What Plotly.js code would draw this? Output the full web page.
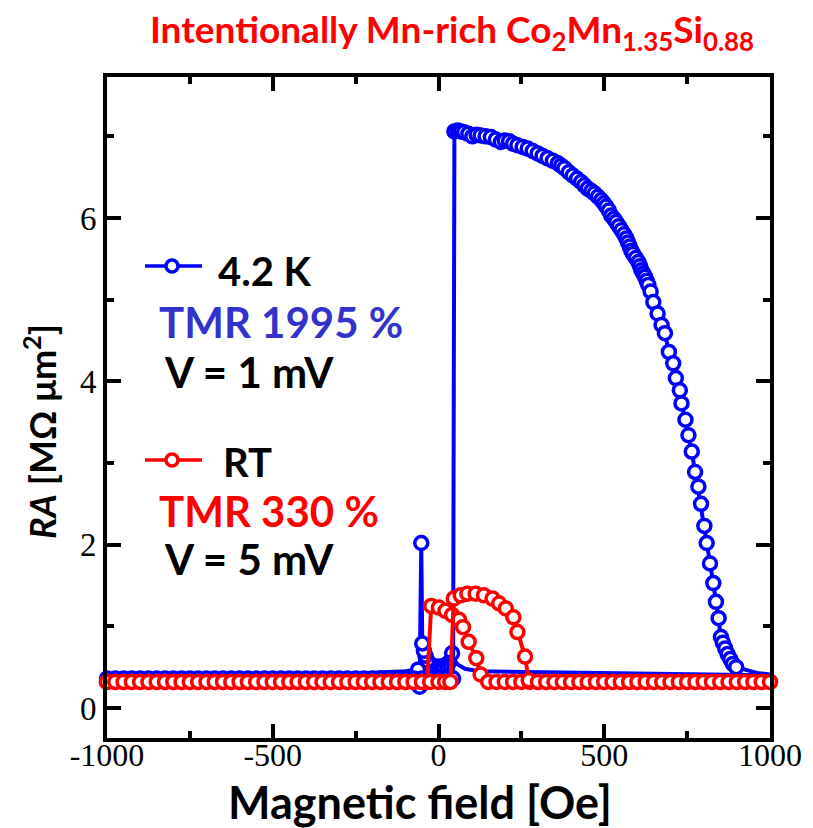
<!DOCTYPE html>
<html>
<head>
<meta charset="utf-8">
<script src="https://cdn.plot.ly/plotly-3.0.1.min.js"></script>
<style>html,body{margin:0;padding:0;background:#fff;}#chart{width:813px;height:828px;}</style>
</head>
<body>
<div id="chart"></div>
<script>
// ---------------- data ----------------
const xTickVals = [-1000, -500, 0, 500, 1000];
const xTickText = ['-1000', '-500', '0', '500', '1000'];
const yTickVals = [0, 2, 4, 6];
const yTickText = ['0', '2', '4', '6'];

// common low-field baseline sweep positions (Oe)
const fieldLeft = [-1000,-975,-950,-925,-900,-875,-850,-825,-800,-775,-750,-725,-700,-675,-650,-625,-600,-575,-550,-525,-500,-475,-450,-425,-400,-375,-350,-325,-300,-275,-250,-225,-200,-175,-150,-125,-100,-75];
const fieldRight = [300,325,350,375,400,425,450,475,500,525,550,575,600,625,650,675,700,725,750,775,800,825,850,875,900,925,950,975,1000];

// RT (red) baseline values
const redBaseLeft = [0.32,0.32,0.32,0.32,0.32,0.32,0.32,0.32,0.32,0.32,0.32,0.32,0.32,0.32,0.32,0.32,0.32,0.32,0.32,0.32,0.32,0.32,0.32,0.32,0.32,0.32,0.32,0.32,0.32,0.32,0.32,0.32,0.32,0.32,0.32,0.32,0.32,0.32];
const redBaseRight = [0.32,0.32,0.32,0.32,0.32,0.32,0.32,0.32,0.32,0.32,0.32,0.32,0.32,0.32,0.32,0.32,0.32,0.32,0.32,0.32,0.32,0.32,0.32,0.32,0.32,0.32,0.32,0.32,0.32];
// RT sweep A (lower branch)
const redA_x = [-50,-34,-22,1,21,41,62,74,91,114,127,150,175,200,225,250,275];
const redA_y = [0.32,0.32,1.25,1.23,1.19,1.14,1.08,0.99,0.81,0.61,0.41,0.32,0.32,0.32,0.32,0.32,0.32];
// RT sweep B (upper arc)
const redB_x = [-50,-25,0,20,36,46,67,87,112,137,163,183,203,226,238,261,272];
const redB_y = [0.32,0.32,0.32,0.32,0.32,1.34,1.38,1.40,1.40,1.38,1.34,1.28,1.22,1.11,0.93,0.63,0.34];

// 4.2 K (blue) sweep B: baseline then AP plateau
const blueBaseLeft = [0.36,0.36,0.36,0.36,0.36,0.36,0.36,0.36,0.36,0.36,0.36,0.36,0.36,0.36,0.36,0.36,0.36,0.36,0.36,0.36,0.36,0.36,0.36,0.36,0.36,0.36,0.36,0.36,0.36,0.36,0.36,0.36,0.36,0.36,0.36,0.36,0.36,0.36];
const blueB_x = [-50,-25,0,20,44,48,58,67,77,90,102,115,127,142,158,173,188,200,213,225,238,254,269,284,299,314,329,345,360,370,380,393,405,418,430,440,450,461,471,481,491,499,506,514,521,529,536,544,552,560,567,572,577,582,587,595,603,608,612,618,623,628,633,640,648,661,673,683,695,708,716,728,733,745,754,764,774,784,792,802,809,819,829,837,845,852,858,865,872,880,888,898];
const blueB_y = [0.36,0.36,0.36,0.36,0.36,7.06,7.07,7.06,7.05,7.03,7.00,7.02,7.01,7.00,6.99,6.96,6.93,6.95,6.94,6.91,6.89,6.87,6.85,6.82,6.79,6.76,6.73,6.70,6.67,6.64,6.61,6.56,6.52,6.48,6.44,6.40,6.36,6.33,6.30,6.26,6.22,6.18,6.14,6.09,6.03,5.99,5.95,5.90,5.85,5.80,5.75,5.70,5.65,5.60,5.56,5.51,5.46,5.41,5.36,5.32,5.28,5.23,5.18,5.10,4.97,4.83,4.69,4.59,4.36,4.22,4.04,3.89,3.73,3.53,3.34,3.14,2.89,2.71,2.50,2.23,2.02,1.77,1.53,1.30,1.10,0.87,0.80,0.73,0.66,0.60,0.54,0.50];
const blueB_tailX = [898,930,960,1000];
const blueB_tailY = [0.50,0.46,0.43,0.41];

// 4.2 K (blue) sweep A: high field tail, spike near -50 Oe, low field tail
const blueA_rightX = [1000,800,600,400,200,120,80,55,41];
const blueA_rightY = [0.40,0.41,0.42,0.43,0.44,0.45,0.48,0.54,0.67];
const blueA_spikeX = [41,30,20,10,0,-10,-20,-25,-29,-34,-39,-44,-49,-52,-57,-62];
const blueA_spikeY = [0.67,0.55,0.52,0.51,0.50,0.51,0.52,0.53,0.55,0.58,0.64,0.70,0.79,2.02,0.26,0.47];
const blueA_leftX = [-62,-80,-100,-150,-250,-400,-600,-800,-1000];
const blueA_leftY = [0.47,0.46,0.45,0.44,0.42,0.41,0.40,0.39,0.38];

// ---------------- styles ----------------
const BLUE = '#0000ff', RED = '#ff0000';
const mk = c => ({symbol: 'circle', size: 13, color: '#ffffff', line: {color: c, width: 3.5}});
const ln = c => ({color: c, width: 4});

const traces = [
  {x: blueA_leftX, y: blueA_leftY, mode: 'lines', line: ln(BLUE), name: '4.2 K', showlegend: false, cliponaxis: false},
  {x: blueA_rightX, y: blueA_rightY, mode: 'lines', line: ln(BLUE), name: '4.2 K', showlegend: false, cliponaxis: false},
  {x: blueB_tailX, y: blueB_tailY, mode: 'lines', line: ln(BLUE), name: '4.2 K', showlegend: false, cliponaxis: false},
  {x: blueA_spikeX, y: blueA_spikeY, mode: 'lines+markers', line: ln(BLUE), marker: mk(BLUE), name: '4.2 K', showlegend: false, cliponaxis: false},
  {x: fieldLeft.concat(blueB_x), y: blueBaseLeft.concat(blueB_y), mode: 'lines+markers', line: ln(BLUE), marker: mk(BLUE), name: '4.2 K', showlegend: false, cliponaxis: false},
  {x: fieldLeft.concat(redA_x, fieldRight), y: redBaseLeft.concat(redA_y, redBaseRight), mode: 'lines+markers', line: ln(RED), marker: mk(RED), name: 'RT', showlegend: false, cliponaxis: false},
  {x: fieldLeft.concat(redB_x, fieldRight), y: redBaseLeft.concat(redB_y, redBaseRight), mode: 'lines+markers', line: ln(RED), marker: mk(RED), name: 'RT', showlegend: false, cliponaxis: false}
];

// ---------------- layout ----------------
const L = 107, R = 770, T = 77, B = 738;
const px = v => (v - L) / (R - L);
const py = v => (B - v) / (B - T);
const SANS = 'Lato, "Open Sans", sans-serif';
const SERIF = '"Liberation Serif", "Times New Roman", serif';

const ann = (text, x, y, size, color) => ({
  text: text, xref: 'paper', yref: 'paper', x: px(x), y: py(y),
  xanchor: 'left', yanchor: 'middle', showarrow: false,
  font: {family: SANS, size: size, color: color, weight: 'bold'}
});

const layout = {
  width: 813, height: 828,
  margin: {l: L, r: 813 - R, t: T, b: 828 - B},
  paper_bgcolor: '#ffffff', plot_bgcolor: '#ffffff',
  showlegend: false,
  title: {
    text: 'Intentionally Mn-rich Co<sub>2</sub>Mn<sub>1.35</sub>Si<sub>0.88</sub>',
    x: 452 / 813, xanchor: 'center', xref: 'container',
    y: 1 - 30 / 828, yanchor: 'middle', yref: 'container',
    font: {family: SANS, size: 37, color: RED, weight: 'bold'}
  },
  xaxis: {
    range: [-1000, 1000], tickmode: 'array', tickvals: xTickVals, ticktext: xTickText,
    ticks: 'inside', ticklen: 14, tickwidth: 4, tickcolor: '#000',
    minor: {tickmode: 'linear', tick0: 0, dtick: 250, ticks: 'inside', ticklen: 7, tickwidth: 4, tickcolor: '#000', showgrid: false},
    showline: true, linewidth: 4, linecolor: '#000', mirror: 'ticks',
    showgrid: false, zeroline: false, ticklabelstandoff: -14,
    tickfont: {family: SERIF, size: 32, color: '#000'}
  },
  yaxis: {
    range: [-0.367, 7.726], tickmode: 'array', tickvals: yTickVals, ticktext: yTickText,
    ticks: 'inside', ticklen: 14, tickwidth: 4, tickcolor: '#000',
    minor: {tickmode: 'linear', tick0: 0, dtick: 1, ticks: 'inside', ticklen: 7, tickwidth: 4, tickcolor: '#000', showgrid: false},
    showline: true, linewidth: 4, linecolor: '#000', mirror: 'ticks',
    showgrid: false, zeroline: false,
    tickfont: {family: SERIF, size: 33, color: '#000'}
  },
  annotations: [
    {text: 'Magnetic field [Oe]', xref: 'paper', yref: 'paper', x: px(420), y: py(802),
     xanchor: 'center', yanchor: 'middle', showarrow: false,
     font: {family: SANS, size: 45, color: '#000', weight: 'bold'}},
    {text: '<i>RA</i> [MΩ μm<sup>2</sup>]', xref: 'paper', yref: 'paper', x: px(40), y: py(432),
     xanchor: 'center', yanchor: 'middle', textangle: -90, showarrow: false,
     font: {family: SANS, size: 36, color: '#000', weight: 'bold'}},
    ann('4.2 K', 216, 271, 40, '#000'),
    ann('TMR 1995 %', 157, 322, 42, '#3333cc'),
    ann('V = 1 mV', 162, 372, 42, '#000'),
    ann('RT', 221, 462, 40, '#000'),
    ann('TMR 330 %', 157, 511, 42, RED),
    ann('V = 5 mV', 162, 559, 42, '#000')
  ],
  shapes: [
    {type: 'line', xref: 'paper', yref: 'paper', x0: px(145), x1: px(202), y0: py(266), y1: py(266), line: {color: BLUE, width: 3.5}},
    {type: 'circle', xref: 'paper', yref: 'paper', xsizemode: 'pixel', ysizemode: 'pixel',
     xanchor: px(172), yanchor: py(266), x0: -6, x1: 6, y0: -6, y1: 6, line: {color: BLUE, width: 3.5}, fillcolor: '#ffffff'},
    {type: 'line', xref: 'paper', yref: 'paper', x0: px(145), x1: px(202), y0: py(460), y1: py(460), line: {color: RED, width: 3.5}},
    {type: 'circle', xref: 'paper', yref: 'paper', xsizemode: 'pixel', ysizemode: 'pixel',
     xanchor: px(172), yanchor: py(460), x0: -6, x1: 6, y0: -6, y1: 6, line: {color: RED, width: 3.5}, fillcolor: '#ffffff'}
  ]
};

Plotly.newPlot('chart', traces, layout, {displayModeBar: false, staticPlot: true});
</script>
</body>
</html>
